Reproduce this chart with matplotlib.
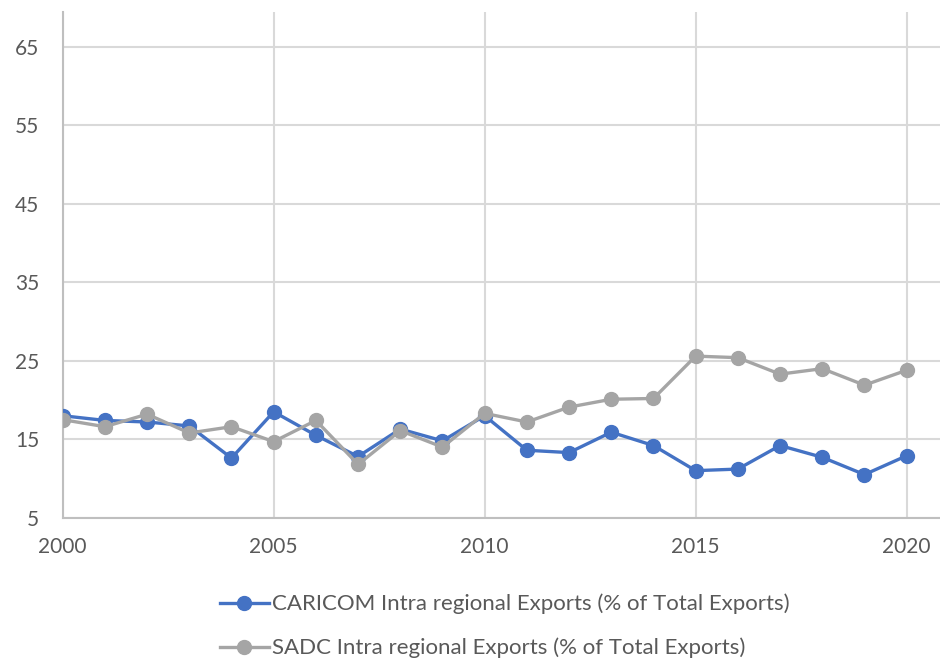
import matplotlib.pyplot as plt
import numpy as np

plt.rcParams['font.family'] = ['Lato', 'DejaVu Sans']

years = np.arange(2000, 2021)
caricom = [18.0, 17.4, 17.2, 16.7, 12.6, 18.5, 15.5, 12.8, 16.3, 14.8, 18.0,
           13.6, 13.3, 15.9, 14.2, 11.0, 11.2, 14.2, 12.7, 10.5, 12.9]
sadc = [17.5, 16.6, 18.2, 15.8, 16.6, 14.7, 17.4, 11.8, 16.1, 14.0, 18.3,
        17.2, 19.1, 20.1, 20.2, 25.6, 25.4, 23.3, 24.0, 21.9, 23.8]
caricom_label = 'CARICOM Intra regional Exports (% of Total Exports)'
sadc_label = 'SADC Intra regional Exports (% of Total Exports)'

yticks = [5, 15, 25, 35, 45, 55, 65]
xticks = [2000, 2005, 2010, 2015, 2020]

fig = plt.figure(figsize=(9.4, 6.58), dpi=100)
ax = fig.add_axes([0.0667, 0.2132, 0.9333, 0.7690])

ax.plot(years, caricom, color='#4472C4', lw=2.4, marker='o', ms=10,
        label=caricom_label, zorder=3)
ax.plot(years, sadc, color='#A5A5A5', lw=2.4, marker='o', ms=10,
        label=sadc_label, zorder=4)

ax.set_xlim(2000, 2020.79)
ax.set_ylim(5, 69.5)
ax.set_yticks(yticks)
ax.set_xticks(xticks)
ax.grid(True, color='#D9D9D9', lw=1.5)
ax.set_axisbelow(True)

for s in ['top', 'right']:
    ax.spines[s].set_visible(False)
for s in ['left', 'bottom']:
    ax.spines[s].set_color('#BFBFBF')
    ax.spines[s].set_linewidth(1.5)

ax.tick_params(length=0, labelsize=15, labelcolor='#595959')
ax.tick_params(axis='y', pad=17)
ax.tick_params(axis='x', pad=14)

fig.legend(loc='upper center', bbox_to_anchor=(0.537, 0.111), ncol=1,
           frameon=False, fontsize=16, labelcolor='#595959',
           handlelength=2.2, handletextpad=0.15, labelspacing=1.05,
           borderaxespad=0)

fig.savefig('out.png', dpi=100)
